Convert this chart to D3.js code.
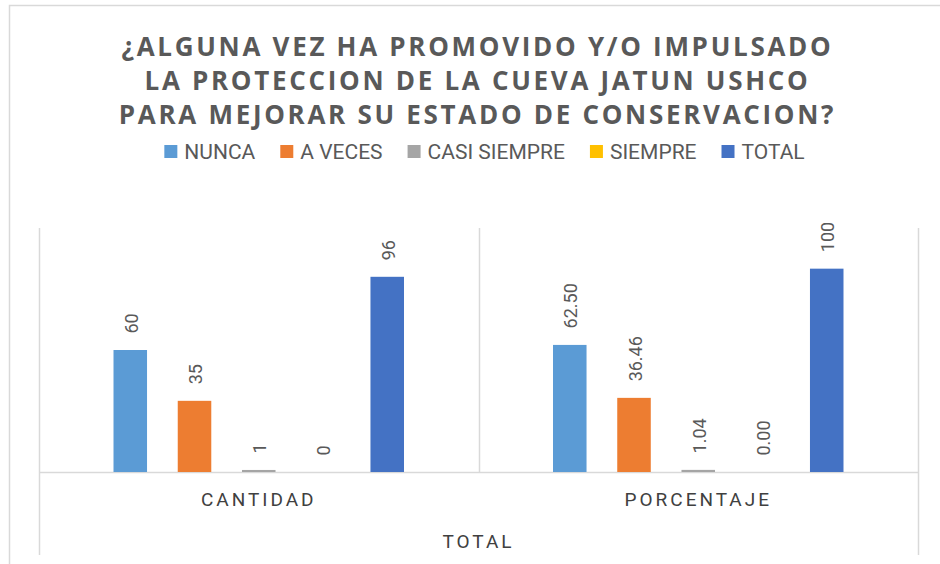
<!DOCTYPE html>
<html>
<head>
<meta charset="utf-8">
<script src="https://cdnjs.cloudflare.com/ajax/libs/d3/7.8.5/d3.min.js"></script>
<style>
  html, body { margin: 0; padding: 0; background: #fff; }
  #chart { width: 940px; height: 564px; overflow: hidden; }
</style>
</head>
<body>
<div id="chart"></div>
<script>
// ---------------------- DATA ----------------------
var titleLines = ["¿ALGUNA VEZ HA PROMOVIDO Y/O IMPULSADO",
                  "LA PROTECCION DE LA CUEVA JATUN USHCO",
                  "PARA MEJORAR SU ESTADO DE CONSERVACION?"];
var groups = ["CANTIDAD", "PORCENTAJE"];
var outerLabel = "TOTAL";
var series = ["NUNCA", "A VECES", "CASI SIEMPRE", "SIEMPRE", "TOTAL"];
var colors = ["#5B9BD5", "#ED7D31", "#A5A5A5", "#FFC000", "#4472C4"];
var cantidad = [60, 35, 1, 0, 96];
var porcentaje = [62.50, 36.46, 1.04, 0.00, 100];
var labelsCantidad = ["60", "35", "1", "0", "96"];
var labelsPorcentaje = ["62.50", "36.46", "1.04", "0.00", "100"];

(function() {
    var width = 940,
        height = 564;

    var svg = d3.select("#chart")
        .append("svg")
        .attr("width", width)
        .attr("height", height)
        .style("font-family", "Roboto, 'Open Sans', sans-serif");

    // chart border (cropped on the right & bottom like the screenshot)
    svg.append("rect")
        .attr("x", 9.5).attr("y", 5.5)
        .attr("width", 1000).attr("height", 1000)
        .attr("fill", "none")
        .attr("stroke", "#d9d9d9")
        .attr("stroke-width", 1.5);

    // plot area
    var left = 39, right = 918, top = 228, base = 472, axisBottom = 555;

    var x0 = d3.scaleBand().domain(groups).range([left, right]).padding(0);
    var half = 160.6;
    var x1 = d3.scaleBand().domain(series)
        .range([x0.bandwidth() / 2 - half, x0.bandwidth() / 2 + half])
        .paddingInner(0.478)
        .paddingOuter(0.239);
    var y = d3.scaleLinear().domain([0, 120]).range([base, top]);
    var color = d3.scaleOrdinal().domain(series).range(colors);

    // ----- gridlines / separators -----
    var lineColor = "#d9d9d9";
    var seps = [left, left + x0.bandwidth(), right];
    svg.selectAll(".sep")
        .data(seps)
        .enter().append("line")
        .attr("class", "sep")
        .attr("x1", function(d) { return Math.round(d) + 0.5; })
        .attr("x2", function(d) { return Math.round(d) + 0.5; })
        .attr("y1", top)
        .attr("y2", function(d, i) { return i === 1 ? base : axisBottom; })
        .attr("stroke", lineColor)
        .attr("stroke-width", 1.5);

    svg.append("line")
        .attr("x1", left).attr("x2", right + 1)
        .attr("y1", base + 0.5).attr("y2", base + 0.5)
        .attr("stroke", lineColor)
        .attr("stroke-width", 1.5);

    // ----- bars -----
    var table = groups.map(function(g, gi) {
        var vals = gi === 0 ? cantidad : porcentaje;
        var labs = gi === 0 ? labelsCantidad : labelsPorcentaje;
        return series.map(function(s, si) {
            return { group: g, key: s, value: vals[si], label: labs[si] };
        });
    });

    var groupsG = svg.selectAll(".grp")
        .data(table)
        .enter().append("g")
        .attr("class", "grp")
        .attr("transform", function(d, i) { return "translate(" + x0(groups[i]) + ",0)"; });

    groupsG.selectAll("rect")
        .data(function(d) { return d; })
        .enter().append("rect")
        .attr("x", function(d) { return x1(d.key); })
        .attr("y", function(d) { return y(d.value); })
        .attr("width", x1.bandwidth())
        .attr("height", function(d) { return base - y(d.value); })
        .attr("fill", function(d) { return color(d.key); });

    // value labels, rotated
    groupsG.selectAll(".val")
        .data(function(d) { return d; })
        .enter().append("text")
        .attr("class", "val")
        .attr("transform", function(d) {
            var cx = x1(d.key) + x1.bandwidth() / 2 + 1;
            var cy = y(d.value) - 16.5;
            return "translate(" + cx + "," + cy + ") rotate(-90)";
        })
        .attr("dominant-baseline", "central")
        .attr("fill", "#595959")
        .style("font-size", "18px")
        .text(function(d) { return d.label; });

    // category labels
    svg.selectAll(".cat")
        .data(groups)
        .enter().append("text")
        .attr("class", "cat")
        .attr("x", function(d) { return x0(d) + x0.bandwidth() / 2; })
        .attr("y", 506)
        .attr("text-anchor", "middle")
        .attr("fill", "#404040")
        .style("font-size", "19px")
        .style("letter-spacing", "3px")
        .text(function(d) { return d; });

    svg.append("text")
        .attr("x", (left + right) / 2)
        .attr("y", 548)
        .attr("text-anchor", "middle")
        .attr("fill", "#404040")
        .style("font-size", "19px")
        .style("letter-spacing", "3px")
        .text(outerLabel);

    // ----- title -----
    svg.selectAll(".title")
        .data(titleLines)
        .enter().append("text")
        .attr("class", "title")
        .attr("x", 477.5)
        .attr("y", function(d, i) { return 56 + i * 34; })
        .attr("text-anchor", "middle")
        .attr("fill", "#595959")
        .style("font-family", "'Open Sans', sans-serif")
        .style("font-weight", "bold")
        .style("font-size", "26px")
        .style("letter-spacing", "2.7px")
        .text(function(d) { return d; });

    // ----- legend -----
    var legend = svg.append("g").attr("class", "legend");
    var items = legend.selectAll(".li")
        .data(series)
        .enter().append("g")
        .attr("class", "li");

    items.append("rect")
        .attr("width", 13).attr("height", 13)
        .attr("y", 145)
        .attr("fill", function(d) { return color(d); });

    items.append("text")
        .attr("x", 20)
        .attr("y", 158.5)
        .attr("fill", "#595959")
        .style("font-size", "21px")
        .text(function(d) { return d; });

    var xPos = 0, gap = 25;
    var offsets = [];
    items.each(function() {
        offsets.push(xPos);
        var w = d3.select(this).select("text").node().getComputedTextLength();
        xPos += 20 + w + gap;
    });
    var total = xPos - gap;
    var start = 484.5 - total / 2;
    items.attr("transform", function(d, i) { return "translate(" + (start + offsets[i]) + ",0)"; });
})();
</script>
</body>
</html>
